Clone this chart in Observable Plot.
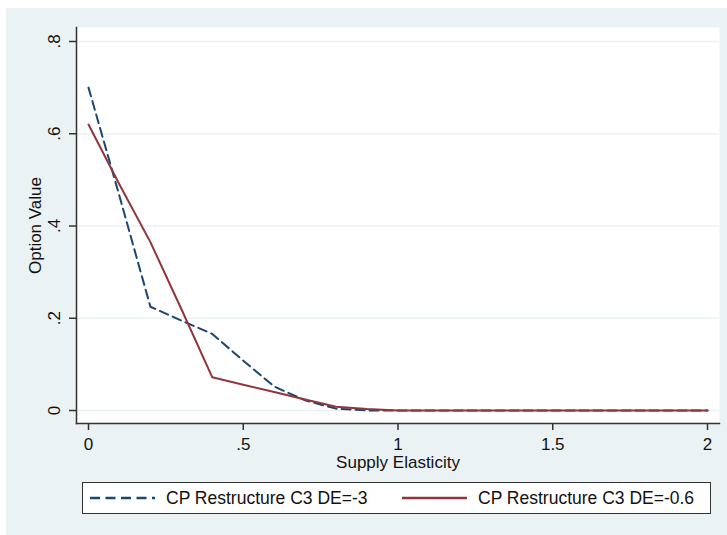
<!DOCTYPE html>
<html><head><meta charset="utf-8">
<script src="https://cdn.jsdelivr.net/npm/d3@7"></script>
<script src="https://cdn.jsdelivr.net/npm/@observablehq/plot@0.6"></script>
<style>
body{margin:0;background:#fff;font-family:"Liberation Sans",Arial,sans-serif;}
#bg{position:absolute;left:6px;top:8px;width:721px;height:527px;background:#EAF2F3;}
#chart{position:absolute;left:0;top:0;}
#legend{position:absolute;left:76px;top:474px;width:627px;height:30px;background:#fff;border:1.5px solid #333;color:#111;font-size:17.5px;}
.item{position:absolute;top:0;height:30px;display:flex;align-items:center;}
.item svg{margin-right:11px;}
</style></head><body>
<div id="bg"><div id="chart"></div><div id="legend"></div></div>
<script>
const elasticity = [0, 0.1, 0.2, 0.3, 0.4, 0.5, 0.6, 0.7, 0.8, 0.9, 1.0, 1.5, 2.0];
const deMinus3  = [0.70, 0.465, 0.225, 0.195, 0.166, 0.108, 0.052, 0.022, 0.004, 0, 0, 0, 0];
const deMinus06 = [0.62, 0.49, 0.365, 0.22, 0.072, 0.056, 0.040, 0.024, 0.008, 0.003, 0, 0, 0];
const seriesNames = ["CP Restructure C3 DE=-3", "CP Restructure C3 DE=-0.6"];
const xTicks = [0, 0.5, 1, 1.5, 2];
const yTicks = [0, 0.2, 0.4, 0.6, 0.8];
const colors = ["#1a476f", "#90353b"];

const fmt = d => d === 0 ? "0" : (Number.isInteger(d) ? String(d) : String(d).replace(/^0\./, "."));
const dataA = elasticity.map((x, i) => ({x, y: deMinus3[i]}));
const dataB = elasticity.map((x, i) => ({x, y: deMinus06[i]}));

const chart = Plot.plot({
  width: 721, height: 468,
  marginLeft: 70, marginRight: 8, marginTop: 19, marginBottom: 53,
  x: {domain: [0, 2], insetLeft: 12, insetRight: 12},
  y: {domain: [0, 0.8], insetTop: 14, insetBottom: 13},
  style: {background: "transparent", fontFamily: '"Liberation Sans", Arial, sans-serif', fontSize: "17px", color: "#111"},
  marks: [
    Plot.frame({fill: "white", stroke: null}),
    Plot.gridY(yTicks, {stroke: "#EAF2F3", strokeOpacity: 1, strokeWidth: 1.5}),
    Plot.line(dataA, {x: "x", y: "y", stroke: colors[0], strokeWidth: 2, strokeDasharray: "9,5"}),
    Plot.line(dataB, {x: "x", y: "y", stroke: colors[1], strokeWidth: 2}),
    Plot.frame({anchor: "left", stroke: "#333", strokeWidth: 1.5}),
    Plot.frame({anchor: "bottom", stroke: "#333", strokeWidth: 1.5}),
    Plot.axisY({ticks: yTicks, tickFormat: fmt, tickSize: 7, tickPadding: 10, tickRotate: -90, stroke: "#333", strokeWidth: 1.5,
      label: "Option Value", labelAnchor: "center", labelArrow: "none", labelOffset: 48}),
    Plot.axisX({ticks: xTicks, tickFormat: fmt, tickSize: 7, tickPadding: 7, stroke: "#333", strokeWidth: 1.5,
      label: "Supply Elasticity", labelAnchor: "center", labelArrow: "none", labelOffset: 44})
  ]
});
document.getElementById("chart").appendChild(chart);

const legend = document.getElementById("legend");
const lefts = [7, 319];
seriesNames.forEach((name, i) => {
  const item = document.createElement("div");
  item.className = "item";
  item.style.left = lefts[i] + "px";
  const dash = i === 0 ? 'stroke-dasharray="10,5.5"' : "";
  item.innerHTML = `<svg width="65" height="6"><line x1="0" x2="65" y1="3" y2="3" stroke="${colors[i]}" stroke-width="2.5" ${dash}/></svg><span>${name}</span>`;
  legend.appendChild(item);
});
</script>
</body></html>
